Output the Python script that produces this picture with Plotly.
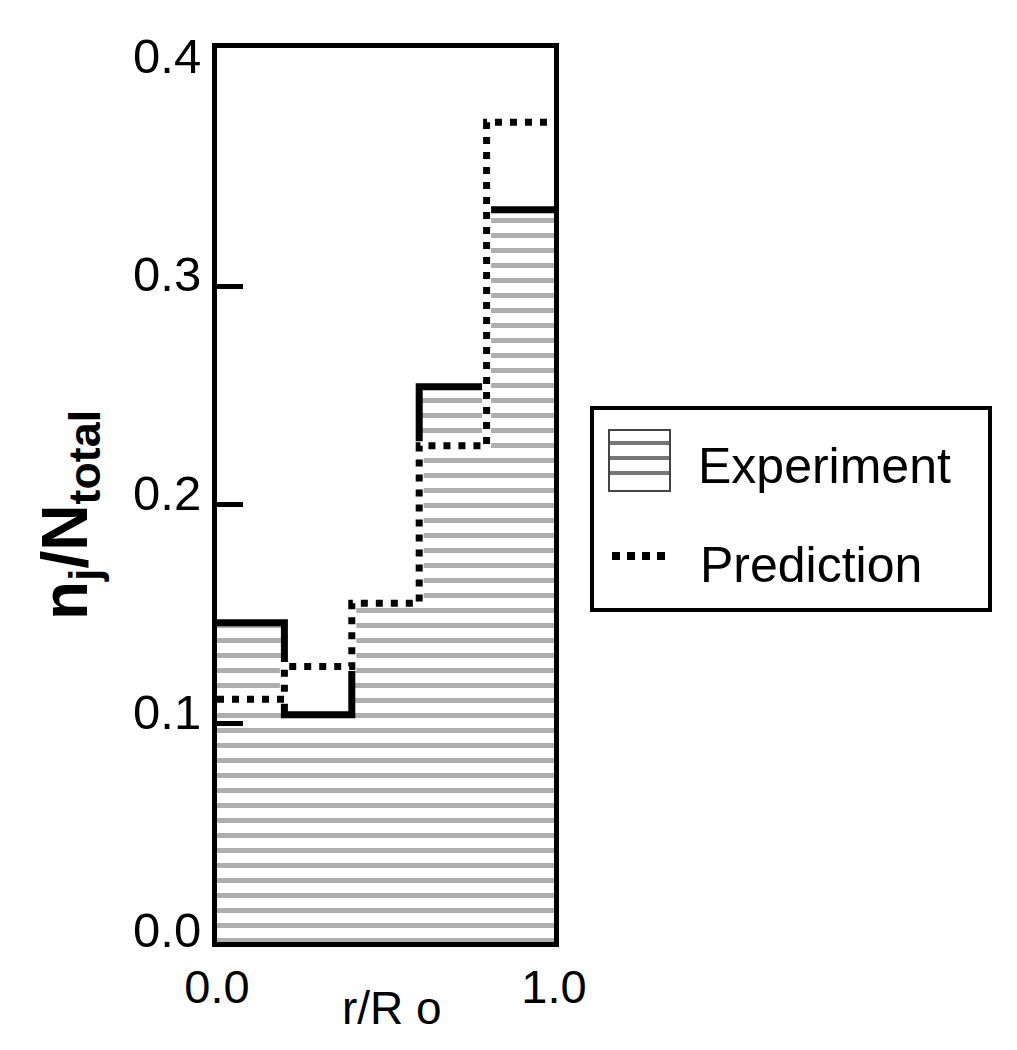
import plotly.graph_objects as go

# Data
bin_edges = [0.0, 0.2, 0.4, 0.6, 0.8, 1.0]
experiment = [0.146, 0.104, 0.155, 0.254, 0.335]
prediction = [0.111, 0.126, 0.155, 0.227, 0.375]
y_ticks = [0.0, 0.1, 0.2, 0.3, 0.4]
y_ticklabels = ["0.0", "0.1", "0.2", "0.3", "0.4"]
y_minor_ticks = [0.1, 0.2, 0.3]
x_ticks = [0.0, 1.0]
x_ticklabels = ["0.0", "1.0"]
series_names = ["Experiment", "Prediction"]
x_title = "r/R o"
y_title = "<b>n<sub>j</sub>/N<sub>total</sub></b>"

centers = [(a + b) / 2 for a, b in zip(bin_edges[:-1], bin_edges[1:])]
widths = [b - a for a, b in zip(bin_edges[:-1], bin_edges[1:])]

FONT = "Liberation Sans, Arial, Helvetica, sans-serif"
HATCH = "#5e5e5e"

# page geometry (pixels); the page body adds an 8px offset
W, H = 1017, 1050
OFF = 8
L, R, T, B = 209, 471, 40, 116
PW, PH = W - L - R, H - T - B


def px(x):  # screen pixel x -> paper x
    return (x - OFF - L) / PW


def py(y):  # screen pixel y -> paper y
    return (H - B - (y - OFF)) / PH


fig = go.Figure()

fig.add_trace(go.Bar(
    x=centers, y=experiment, width=widths,
    name=series_names[0], showlegend=False,
    marker=dict(color="white", line=dict(width=0),
                pattern=dict(shape="-", fgcolor=HATCH, bgcolor="white",
                             size=15, solidity=0.33)),
))

fig.add_trace(go.Scatter(
    x=bin_edges, y=experiment + [experiment[-1]], mode="lines",
    line=dict(shape="hv", color="black", width=7),
    showlegend=False, hoverinfo="skip",
))

fig.add_trace(go.Scatter(
    x=bin_edges, y=prediction + [prediction[-1]], mode="lines",
    line=dict(shape="hv", color="white", width=9),
    showlegend=False, hoverinfo="skip",
))

fig.add_trace(go.Scatter(
    x=bin_edges, y=prediction + [prediction[-1]], mode="lines",
    name=series_names[1], showlegend=False,
    line=dict(shape="hv", color="black", width=7, dash="7px,8px"),
))

# ---- legend (keyed box in the right margin) ----
shapes = [
    dict(type="rect", xref="paper", yref="paper",
         x0=px(592), x1=px(990), y0=py(610), y1=py(408),
         line=dict(color="black", width=4), fillcolor="white", layer="above"),
    dict(type="rect", xref="paper", yref="paper",
         x0=px(609), x1=px(670), y0=py(491), y1=py(430),
         line=dict(color="#444", width=2), fillcolor="white", layer="above"),
]
for yy in [443, 458, 473]:
    shapes.append(dict(type="line", xref="paper", yref="paper",
                       x0=px(610), x1=px(669), y0=py(yy), y1=py(yy),
                       line=dict(color="#777", width=4), layer="above"))
shapes.append(dict(type="line", xref="paper", yref="paper",
                   x0=px(612), x1=px(672), y0=py(556), y1=py(556),
                   line=dict(color="black", width=8, dash="8px,7px"),
                   layer="above"))

annotations = [
    dict(text=series_names[0], xref="paper", yref="paper",
         x=px(696), y=py(466), xanchor="left", yanchor="middle",
         showarrow=False, font=dict(size=50, family=FONT)),
    dict(text=series_names[1], xref="paper", yref="paper",
         x=px(698), y=py(565), xanchor="left", yanchor="middle",
         showarrow=False, font=dict(size=50, family=FONT)),
    # axis titles
    dict(text=x_title, xref="paper", yref="paper",
         x=px(392), y=py(1008), xanchor="center", yanchor="middle",
         showarrow=False, font=dict(size=46, family=FONT)),
    dict(text=y_title, xref="paper", yref="paper", textangle=-90,
         x=px(69), y=py(515), xanchor="center", yanchor="middle",
         showarrow=False, font=dict(size=64, family=FONT)),
]

fig.update_layout(
    width=W, height=H,
    margin=dict(l=L, r=R, t=T, b=B),
    paper_bgcolor="white", plot_bgcolor="white",
    font=dict(family=FONT, color="black"),
    bargap=0,
    showlegend=False,
    shapes=shapes,
    annotations=annotations,
)

fig.update_xaxes(
    range=[0, 1], showgrid=False, zeroline=False, automargin=False,
    showline=True, linecolor="black", linewidth=5, mirror=True,
    tickmode="array", tickvals=x_ticks, ticktext=x_ticklabels,
    ticks="", ticklen=0, tickfont=dict(size=47), ticklabelstandoff=0,
)

fig.update_yaxes(
    range=[0, 0.409], showgrid=False, zeroline=False, automargin=False,
    showline=True, linecolor="black", linewidth=5, mirror=True,
    tickmode="array", tickvals=y_ticks, ticktext=y_ticklabels,
    ticks="", ticklen=0, tickfont=dict(size=49), ticklabelstandoff=1,
    ticklabelshift=-12,
    minor=dict(tickmode="array", tickvals=y_minor_ticks, ticks="inside",
               ticklen=26, tickwidth=5, tickcolor="black", showgrid=False),
)

fig.write_html("out.html")
